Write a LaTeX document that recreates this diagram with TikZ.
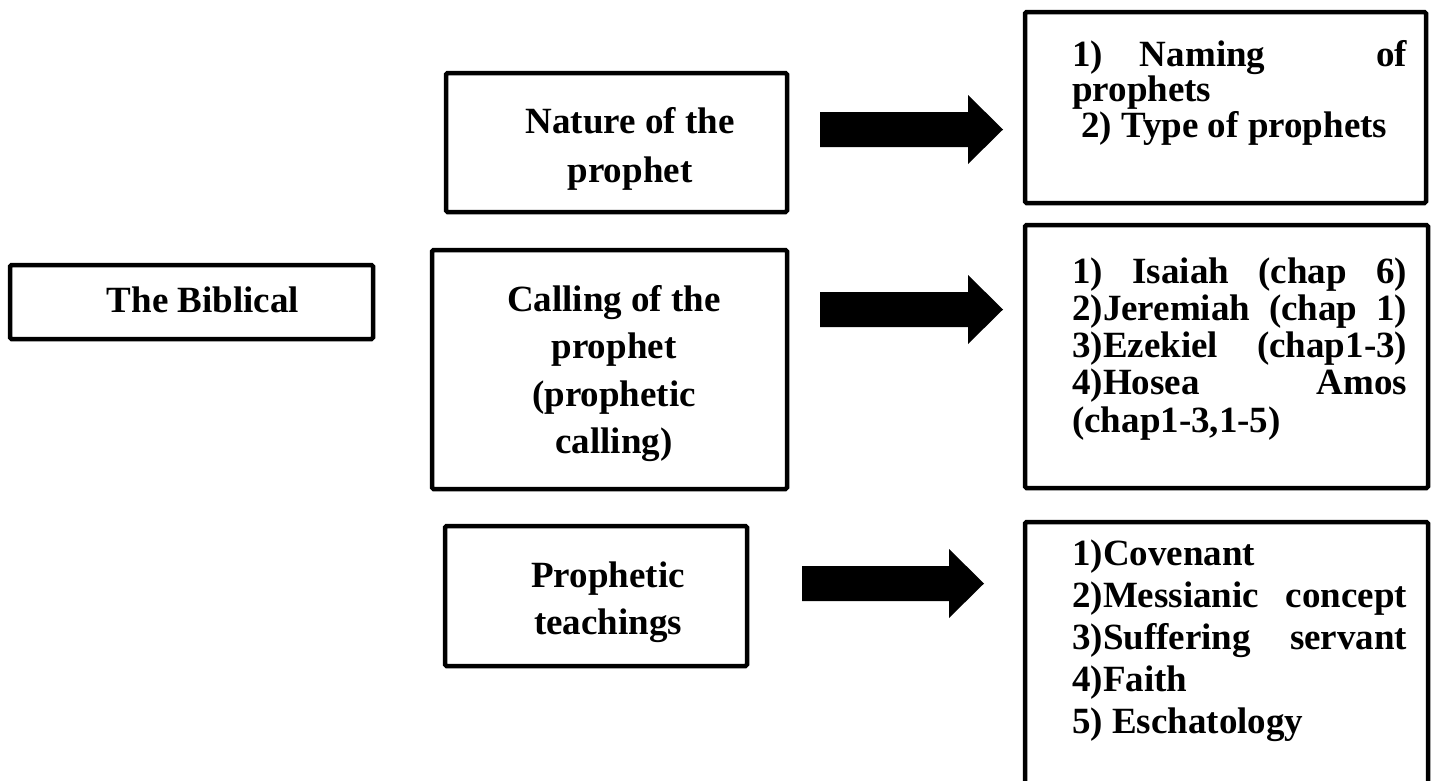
\documentclass[tikz,border=0pt]{standalone}
\usepackage{fontspec}
\setmainfont{Liberation Serif}
\usetikzlibrary{calc}
\newcommand\fatarrow[2]{\fill ($(#1)+(0,-17.5)$) -- ($(#2)+(-35,-17.5)$) -- ($(#2)+(-35,-34.5)$) -- (#2) -- ($(#2)+(-35,34.5)$) -- ($(#2)+(-35,17.5)$) -- ($(#1)+(0,17.5)$) -- cycle;}
\begin{document}
\begin{tikzpicture}[x=1pt,y=-1pt,
  box/.style={draw,line width=4.5pt,rounded corners=1.5pt,inner sep=0pt},
  txt/.style={inner sep=0pt,font=\bfseries\fontsize{37}{44}\selectfont}]
\useasboundingbox (0,0) rectangle (1438,780);
\clip (0,0) rectangle (1438,780);
% left column
\node[box,minimum width=363pt,minimum height=74pt] (bib) at (191.5,302) {};
\node[txt,anchor=base] (bibT) at (203,312) {The Biblical};
% middle column
\node[box,minimum width=341pt,minimum height=139pt] (nat) at (616.5,142.5) {};
\node[txt,anchor=base] (natT) at (630,133) {\parbox[t]{320pt}{\centering\fontsize{37}{49}\selectfont Nature of the\\prophet}};
\node[box,minimum width=355pt,minimum height=239pt] (cal) at (609.5,369.5) {};
\node[txt,anchor=base] (calT) at (614,311) {\parbox[t]{320pt}{\centering\fontsize{37}{47.5}\selectfont Calling of the\\prophet\\(prophetic\\calling)}};
\node[box,minimum width=302pt,minimum height=140pt] (pro) at (596,596) {};
\node[txt,anchor=base] (proT) at (608,587) {\parbox[t]{280pt}{\centering\fontsize{37}{47}\selectfont Prophetic\\teachings}};
% right column
\node[box,minimum width=401pt,minimum height=191pt] (r1) at (1225.5,107.5) {};
\node[txt,anchor=base west] (r1T) at (1072,66) {\parbox[t]{335pt}{\fontsize{37}{35.5}\selectfont 1)\hspace{0pt plus 1fill}Naming\hspace{0pt plus 3fill}of\\prophets\\\hspace*{9pt}2) Type of prophets}};
\node[box,minimum width=403pt,minimum height=263pt] (r2) at (1226.5,356.5) {};
\node[txt,anchor=base west] (r2T) at (1072,283) {\parbox[t]{335pt}{\fontsize{37}{37.3}\selectfont 1)\hfill Isaiah\hfill (chap\hfill 6)\\2)Jeremiah\hfill (chap\hfill 1)\\3)Ezekiel\hfill (chap1-3)\\4)Hosea\hfill Amos\\(chap1-3,1-5)}};
\node[box,minimum width=403pt,minimum height=278pt] (r3) at (1226.5,661) {};
\node[txt,anchor=base west] (r3T) at (1072,565) {\parbox[t]{335pt}{\fontsize{37}{42}\selectfont 1)Covenant\\2)Messianic\hfill concept\\3)Suffering\hfill servant\\4)Faith\\5) Eschatology}};
% arrows
\coordinate (a1s) at (820,129.5);
\coordinate (a1t) at (1003,129.5);
\coordinate (a2s) at (820,309.5);
\coordinate (a2t) at (1003,309.5);
\coordinate (a3s) at (802,583.5);
\coordinate (a3t) at (984,583.5);
\fatarrow{a1s}{a1t}
\fatarrow{a2s}{a2t}
\fatarrow{a3s}{a3t}
\end{tikzpicture}
\end{document}
